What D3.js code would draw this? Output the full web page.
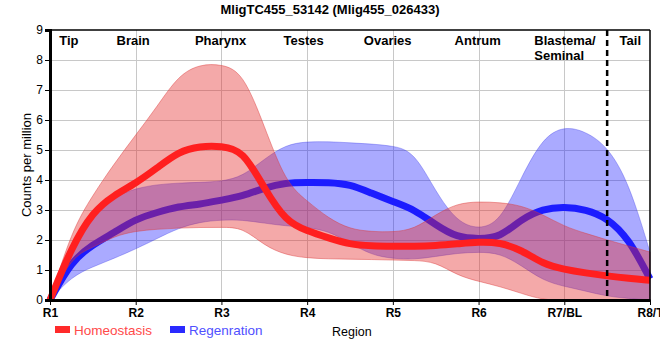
<!DOCTYPE html>
<html>
<head>
<meta charset="utf-8">
<script src="https://cdn.jsdelivr.net/npm/d3@7"></script>
<style>
  html, body { margin: 0; padding: 0; background: #fff; }
  svg { display: block; font-family: "Liberation Sans", Arial, sans-serif; }
</style>
</head>
<body>
<svg id="chart" width="660" height="360"></svg>
<script>
// ---------- data ----------
const chartTitle = "MligTC455_53142 (Mlig455_026433)";
const regionTicks = ["R1", "R2", "R3", "R4", "R5", "R6", "R7/BL", "R8/T"];
const regionNames = ["Tip", "Brain", "Pharynx", "Testes", "Ovaries", "Antrum", "Blastema/|Seminal", "Tail"];
const yTicks = [0, 1, 2, 3, 4, 5, 6, 7, 8, 9];
const seriesNames = ["Homeostasis", "Regenration"];

// sample positions along the region axis (R1 = 0 ... R8/T = 7)
const samplePos = [0, 0.25, 0.5, 0.75, 1, 1.25, 1.5, 1.75, 2, 2.25, 2.5, 2.75, 3, 3.25, 3.5,
                   3.75, 4, 4.25, 4.5, 4.75, 5, 5.25, 5.5, 5.75, 6, 6.25, 6.5, 6.75, 7];

const homeoMean  = [0, 1.75, 2.95, 3.5, 3.89, 4.4, 4.95, 5.13, 5.13, 5.0, 3.72, 2.62, 2.3, 2.07, 1.85,
                    1.8, 1.79, 1.79, 1.81, 1.87, 1.94, 1.92, 1.67, 1.2, 1.02, 0.9, 0.8, 0.72, 0.66];
const homeoUpper = [0, 2.3, 3.5, 4.55, 5.5, 6.45, 7.5, 7.86, 7.86, 7.6, 5.8, 3.9, 3.3, 2.72, 2.36,
                    2.28, 2.26, 2.36, 2.85, 3.22, 3.28, 3.25, 3.15, 2.85, 2.45, 2.22, 2.0, 1.8, 1.6];
const homeoLower = [0, 1.45, 1.75, 2.13, 2.3, 2.36, 2.4, 2.42, 2.42, 2.42, 1.81, 1.5, 1.4, 1.37, 1.36,
                    1.35, 1.33, 1.32, 1.27, 0.82, 0.62, 0.45, 0.22, 0, 0, 0, 0, 0, 0];

const regenMean  = [0, 1.3, 1.85, 2.25, 2.7, 2.92, 3.12, 3.19, 3.33, 3.46, 3.74, 3.91, 3.92, 3.92, 3.86,
                    3.56, 3.28, 3.02, 2.5, 2.08, 2.04, 2.08, 2.7, 3.04, 3.11, 3.02, 2.74, 2.06, 0.7];
const regenUpper = [0, 2.0, 2.95, 3.45, 3.72, 3.85, 3.9, 3.92, 3.95, 4.12, 4.7, 5.18, 5.28, 5.28, 5.24,
                    5.2, 5.14, 4.95, 3.6, 2.6, 2.35, 2.6, 4.1, 5.42, 5.8, 5.62, 5.13, 3.95, 1.6];
const regenLower = [0, 0.78, 1.11, 1.39, 1.7, 2.05, 2.4, 2.6, 2.67, 2.67, 2.56, 2.47, 2.42, 2.3, 1.9,
                    1.5, 1.38, 1.35, 1.45, 1.56, 1.6, 1.56, 1.15, 0.65, 0.45, 0.3, 0.12, 0.05, 0];

// ---------- layout ----------
const W = 660, H = 360;
const plot = { left: 50, right: 650, top: 30, bottom: 300 };
const regionLabelPos = [0.22, 0.97, 1.99, 2.96, 3.94, 4.99, 5.65, 6.77];
const regionLabelAnchor = ["middle", "middle", "middle", "middle", "middle", "middle", "start", "middle"];
const dividerPos = 6.5;

const x = d3.scaleLinear().domain([0, 7]).range([plot.left, plot.right]);
const y = d3.scaleLinear().domain([0, 9]).range([plot.bottom, plot.top]);

const svg = d3.select("#chart");

// grid
const grid = svg.append("g").attr("stroke", "#c8c8c8").attr("stroke-width", 1);
grid.selectAll("line.h").data(yTicks.filter(v => v > 0 && v < 9)).enter().append("line")
  .attr("x1", plot.left).attr("x2", plot.right)
  .attr("y1", d => Math.round(y(d)) + 0.5).attr("y2", d => Math.round(y(d)) + 0.5);
grid.selectAll("line.v").data(d3.range(1, regionTicks.length - 1)).enter().append("line")
  .attr("y1", plot.top).attr("y2", plot.bottom)
  .attr("x1", d => Math.round(x(d)) + 0.5).attr("x2", d => Math.round(x(d)) + 0.5);

// build series
function pts(vals) { return samplePos.map((p, i) => ({ p, v: vals[i] })); }
function band(lo, hi) { return samplePos.map((p, i) => ({ p, lo: lo[i], hi: hi[i] })); }

const area = d3.area().curve(d3.curveBasis)
  .x(d => x(d.p)).y0(d => y(d.lo)).y1(d => y(d.hi));
const line = d3.line().curve(d3.curveBasis)
  .x(d => x(d.p)).y(d => y(d.v));

// Regeneration (drawn first)
svg.append("path").datum(band(regenLower, regenUpper))
  .attr("d", area).attr("fill", "rgba(20,20,255,0.36)")
  .attr("stroke", "rgba(60,60,230,0.35)").attr("stroke-width", 1);
svg.append("path").datum(pts(regenMean))
  .attr("d", line).attr("fill", "none").attr("stroke", "#1c1cff")
  .attr("stroke-width", 7).attr("stroke-linejoin", "round");

// Homeostasis
svg.append("path").datum(band(homeoLower, homeoUpper))
  .attr("d", area).attr("fill", "rgba(228,40,40,0.4)")
  .attr("stroke", "rgba(220,60,60,0.45)").attr("stroke-width", 1);
svg.append("path").datum(pts(homeoMean))
  .attr("d", line).attr("fill", "none").attr("stroke", "#ff1f1f")
  .attr("stroke-width", 7).attr("stroke-linejoin", "round");

// frame top/right
svg.append("line").attr("x1", plot.left).attr("x2", plot.right).attr("y1", plot.top).attr("y2", plot.top)
  .attr("stroke", "#000").attr("stroke-width", 1.5);
svg.append("line").attr("x1", plot.right).attr("x2", plot.right).attr("y1", plot.top).attr("y2", plot.bottom)
  .attr("stroke", "#000").attr("stroke-width", 1.5);

// divider
svg.append("line").attr("x1", x(dividerPos)).attr("x2", x(dividerPos))
  .attr("y1", plot.top).attr("y2", plot.bottom)
  .attr("stroke", "#000").attr("stroke-width", 2.5).attr("stroke-dasharray", "6,4");

// axes
const yAxis = svg.append("g").attr("transform", `translate(${plot.left},0)`)
  .call(d3.axisLeft(y).tickValues(yTicks).tickFormat(d3.format("d")).tickSize(5).tickPadding(2));
yAxis.select(".domain").attr("stroke-width", 3);
yAxis.selectAll("text").attr("font-size", 12).attr("fill", "#000")
  .attr("font-family", "'Liberation Sans', Arial, sans-serif");

const xAxis = svg.append("g").attr("transform", `translate(0,${plot.bottom})`)
  .call(d3.axisBottom(x).tickValues(d3.range(regionTicks.length)).tickFormat(i => regionTicks[i])
    .tickSize(5).tickPadding(3).tickSizeOuter(0));
xAxis.select(".domain").attr("stroke-width", 3);
xAxis.selectAll("text").attr("font-size", 12).attr("font-weight", "bold").attr("fill", "#000")
  .attr("font-family", "'Liberation Sans', Arial, sans-serif");

// region names
regionNames.forEach((name, i) => {
  const parts = name.split("|");
  const t = svg.append("text").attr("x", x(regionLabelPos[i])).attr("y", 45)
    .attr("text-anchor", regionLabelAnchor[i]).attr("font-size", 13).attr("font-weight", "bold").attr("fill", "#000");
  parts.forEach((p, j) => t.append("tspan").attr("x", x(regionLabelPos[i])).attr("dy", j === 0 ? 0 : 14.5).text(p));
});

// title
svg.append("text").attr("x", 330).attr("y", 14).attr("text-anchor", "middle")
  .attr("font-size", 13).attr("font-weight", "bold").text(chartTitle);

// axis titles
svg.append("text").attr("transform", `translate(31,${(plot.top + plot.bottom) / 2}) rotate(-90)`)
  .attr("text-anchor", "middle").attr("font-size", 13).text("Counts per million");
svg.append("text").attr("x", 332).attr("y", 336).attr("font-size", 12.5).text("Region");

// legend
const legendColors = ["#ff2a2a", "#2a2aff"];
const legendText = ["#ff4a4a", "#5050ff"];
const legendX = [55, 170];
seriesNames.forEach((n, i) => {
  svg.append("rect").attr("x", legendX[i]).attr("y", 326).attr("width", 15).attr("height", 7).attr("fill", legendColors[i]);
  svg.append("text").attr("x", legendX[i] + 19).attr("y", 335).attr("font-size", 13.5)
    .attr("fill", legendText[i]).text(n);
});
</script>
</body>
</html>
